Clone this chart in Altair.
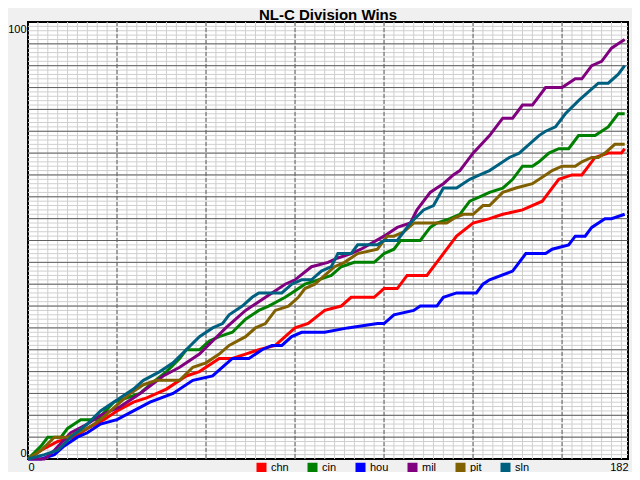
import altair as alt
import pandas as pd

teams = ["chn", "cin", "hou", "mil", "pit", "sln"]
colors = ["#ff0000", "#008000", "#0000ff", "#800080", "#806000", "#006080"]

chn_day = [0,4,9,14,18,23,27,32,36,42,48,52,58,62,66,70,75,78,81,85,90,95,98,105,108,112,115,121,124,128,130,135,140,144,150,156,158,161,165,168,172,176,180,181]
chn_win = [0,2,4,5,7,9,11,13,14,16,19,20,23,23,24,25,26,28,30,31,34,35,37,37,39,39,42,42,45,49,51,54,55,56,57,59,61,64,65,65,69,70,70,71]

cin_day = [0,4,6,10,12,16,21,26,30,34,37,42,46,48,52,55,58,62,66,70,73,78,80,84,88,92,95,99,105,108,111,113,119,122,124,128,131,134,137,140,144,147,150,153,155,158,161,164,167,172,174,176,179,181]
cin_win = [0,3,5,5,7,9,9,13,14,15,17,20,23,25,25,27,28,29,32,34,35,37,38,40,41,42,44,45,45,47,48,50,50,53,54,55,56,59,60,61,62,64,67,67,68,70,71,71,74,74,75,76,79,79]

hou_day = [0,4,8,11,15,18,22,27,32,37,44,50,56,59,62,67,71,74,77,80,83,90,97,106,108,111,117,119,124,126,130,136,138,140,147,149,151,157,159,164,166,169,171,175,177,181]
hou_win = [0,0,1,3,5,6,8,9,11,13,15,18,19,21,23,23,25,26,26,28,29,29,30,31,31,33,34,35,35,37,38,38,40,41,43,45,47,47,48,49,51,51,53,55,55,56]

mil_day = [0,5,8,13,18,22,28,34,41,46,52,56,60,66,70,74,78,81,86,91,94,98,101,108,112,116,118,122,124,126,129,131,135,140,144,147,150,153,157,162,166,168,171,174,177,179,181]
mil_win = [0,0,2,6,8,10,12,15,19,21,24,27,30,34,36,38,40,41,44,45,46,47,48,51,53,54,57,61,62,63,65,66,70,74,78,78,81,81,85,85,87,87,90,91,94,95,96]

pit_day = [0,4,8,12,18,22,25,31,35,39,46,50,54,58,61,66,69,72,75,79,82,84,87,90,93,96,100,106,109,111,114,117,127,129,132,135,138,140,144,148,153,157,159,162,166,168,171,173,175,178,181]
pit_win = [0,2,5,5,7,9,11,15,17,18,18,21,22,24,26,28,30,31,34,35,37,39,40,42,44,45,47,48,51,51,52,54,54,55,56,56,58,58,61,62,63,65,66,67,67,68,69,69,70,72,72]

sln_day = [0,5,9,13,18,22,28,32,35,40,44,48,52,56,59,61,65,68,70,77,80,83,86,89,92,94,98,100,106,108,112,116,120,123,126,130,134,137,140,142,146,149,152,155,157,160,163,167,170,173,176,179,181]
sln_win = [0,1,2,5,8,11,14,16,18,20,22,25,28,30,31,33,35,37,38,38,40,41,41,43,44,47,47,49,49,50,50,54,57,58,62,62,64,65,66,67,69,70,72,74,75,76,79,82,84,86,86,88,90]

x_ticks = [0, 182]
y_ticks = [0, 100]

series = [
    ("chn", chn_day, chn_win),
    ("cin", cin_day, cin_win),
    ("hou", hou_day, hou_win),
    ("mil", mil_day, mil_win),
    ("pit", pit_day, pit_win),
    ("sln", sln_day, sln_win),
]
rows = []
for team, days, wins in series:
    for d, w in zip(days, wins):
        rows.append({"team": team, "day": d, "wins": w})
df = pd.DataFrame(rows)

x_scale = alt.Scale(domain=[0, 182], nice=False, zero=False)
y_scale = alt.Scale(domain=[0, 100], nice=False, zero=False)
team_scale = alt.Scale(domain=teams, range=colors)

minor_x = pd.DataFrame({"gx": list(range(3, 182, 3))})
major_x = pd.DataFrame({"gx": list(range(27, 182, 27))})
minor_y = pd.DataFrame({"gy": list(range(1, 100))})
major_y = pd.DataFrame({"gy": list(range(5, 100, 5))})

light = "#cfcfcf"
dark = "#606060"

x_axis = alt.Axis(values=x_ticks, labelFlush=True, title="", labelPadding=2,
                  ticks=False, domain=False, grid=False, labelFontSize=11,
                  labelFont="Liberation Sans", labelColor="black")
y_axis = alt.Axis(values=y_ticks, labelFlush=True, labelFlushOffset=-1, title="",
                  labelPadding=2, ticks=False, domain=False, grid=False,
                  labelFontSize=11, labelFont="Liberation Sans", labelColor="black")

g_minor_x = alt.Chart(minor_x).mark_rule(color=light, strokeWidth=1).encode(
    x=alt.X("gx:Q", scale=x_scale, axis=x_axis))
g_minor_y = alt.Chart(minor_y).mark_rule(color=light, strokeWidth=1).encode(
    y=alt.Y("gy:Q", scale=y_scale, axis=y_axis))
g_major_y = alt.Chart(major_y).mark_rule(color=dark, strokeWidth=1).encode(
    y=alt.Y("gy:Q", scale=y_scale, axis=y_axis))
g_major_x = alt.Chart(major_x).mark_rule(color=dark, strokeWidth=1, strokeDash=[4, 2]).encode(
    x=alt.X("gx:Q", scale=x_scale, axis=x_axis))

lines = alt.Chart(df).mark_line().encode(
    x=alt.X("day:Q", scale=x_scale, axis=x_axis),
    y=alt.Y("wins:Q", scale=y_scale, axis=y_axis),
    strokeWidth=alt.value(3),
    color=alt.Color("team:N", scale=team_scale,
                    legend=alt.Legend(
                        title=None, orient="none", legendX=228, legendY=440,
                        direction="horizontal", symbolType="square", symbolSize=16,
                        symbolStrokeWidth=6, labelFontSize=11,
                        labelFont="Liberation Sans", labelColor="black",
                        labelOffset=4, columnPadding=9)),
)

chart = alt.layer(g_minor_x, g_minor_y, g_major_y, g_major_x, lines).properties(
    width=600, height=437,
    title=alt.TitleParams(text="NL-C Division Wins", fontSize=15, fontWeight="bold",
                          font="Liberation Sans", color="black", anchor="middle",
                          offset=-1),
    padding={"left": 20, "top": 14, "right": 4, "bottom": 13},
    autosize=alt.AutoSizeParams(type="none"),
    background="#f0f0f0",
).configure_view(
    stroke="black", strokeWidth=2, fill="white"
)

chart.save("out.html", embed_options={"renderer": "svg", "actions": False})
